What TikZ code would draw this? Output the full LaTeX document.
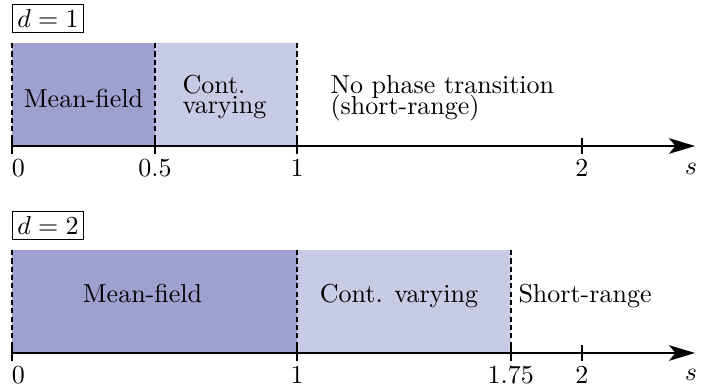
\documentclass[tikz,border=0pt]{standalone}
\usetikzlibrary{arrows.meta}
\definecolor{mfcol}{RGB}{158,161,207}
\definecolor{cvcol}{RGB}{200,203,229}
\begin{document}
\begin{tikzpicture}[x=0.3846pt,y=-0.3846pt,
  axis/.style={line width=0.8pt,-{Stealth[length=10pt,width=6pt,inset=2.5pt]}},
  tickmk/.style={line width=0.8pt},
  bound/.style={line width=0.6pt, dash pattern=on 2pt off 1.2pt},
  dlabel/.style={draw, line width=0.5pt, inner sep=2pt},
  ticklab/.style={anchor=north, inner sep=2pt},
  txt/.style={anchor=base, inner sep=0pt},
  txtl/.style={anchor=base west, inner sep=0pt},
]
\useasboundingbox (0,0) rectangle (701,387);

% ---------- d = 1 ----------
\node[dlabel] (d1) at (48,18.5) {$d=1$};
\fill[mfcol] (12,43) rectangle (155,146);
\fill[cvcol] (155,43) rectangle (297,146);
\coordinate (t0top) at (12,43);   \coordinate (t0) at (12,146);
\coordinate (t5top) at (155,43);  \coordinate (t5) at (155,146);
\coordinate (t1top) at (297,43);  \coordinate (t1) at (297,146);
\coordinate (tend) at (695,146);
\draw[bound] (t0top) -- (t0);
\draw[bound] (t5top) -- (t5);
\draw[bound] (t1top) -- (t1);
\draw[axis] (t0) -- (tend);
\foreach \x/\l/\n/\lx in {12/0/a/18.5, 155/0.5/b/155, 297/1/c/297, 582/2/d/582}{
  \draw[tickmk] (\x,138.2) -- (\x,153.8);
  \node[ticklab] (tl\n) at (\lx,153.8) {$\l$};
}
\node (s1) at (691,169) {$s$};
\node[txt] (mf1) at (83.5,108) {Mean-field};
\node[txtl] (cv1a) at (182,93.3) {Cont.};
\node[txtl] (cv1b) at (182,113.8) {varying};
\node[txtl] (np1a) at (330,93.3) {No phase transition};
\node[txtl] (np1b) at (330,114.3) {(short-range)};

% ---------- d = 2 ----------
\node[dlabel] (d2) at (48,225.5) {$d=2$};
\fill[mfcol] (12,250) rectangle (297,353);
\fill[cvcol] (297,250) rectangle (510.75,353);
\coordinate (u0top) at (12,250);     \coordinate (u0) at (12,353);
\coordinate (u1top) at (297,250);    \coordinate (u1) at (297,353);
\coordinate (u7top) at (510.75,250); \coordinate (u7) at (510.75,353);
\coordinate (uend) at (695,353);
\draw[bound] (u0top) -- (u0);
\draw[bound] (u1top) -- (u1);
\draw[bound] (u7top) -- (u7);
\draw[axis] (u0) -- (uend);
\foreach \x/\l/\n/\lx in {12/0/a/18.5, 297/1/b/297, 510.75/1.75/c/510.75, 582/2/d/582}{
  \draw[tickmk] (\x,345.2) -- (\x,360.8);
  \node[ticklab] (ul\n) at (\lx,360.8) {$\l$};
}
\node (s2) at (691,375) {$s$};
\node[txt] (mf2) at (142.5,303) {Mean-field};
\node[txt] (cv2) at (399,303) {Cont. varying};
\node[txtl] (sr2) at (518,303) {Short-range};
\end{tikzpicture}
\end{document}
